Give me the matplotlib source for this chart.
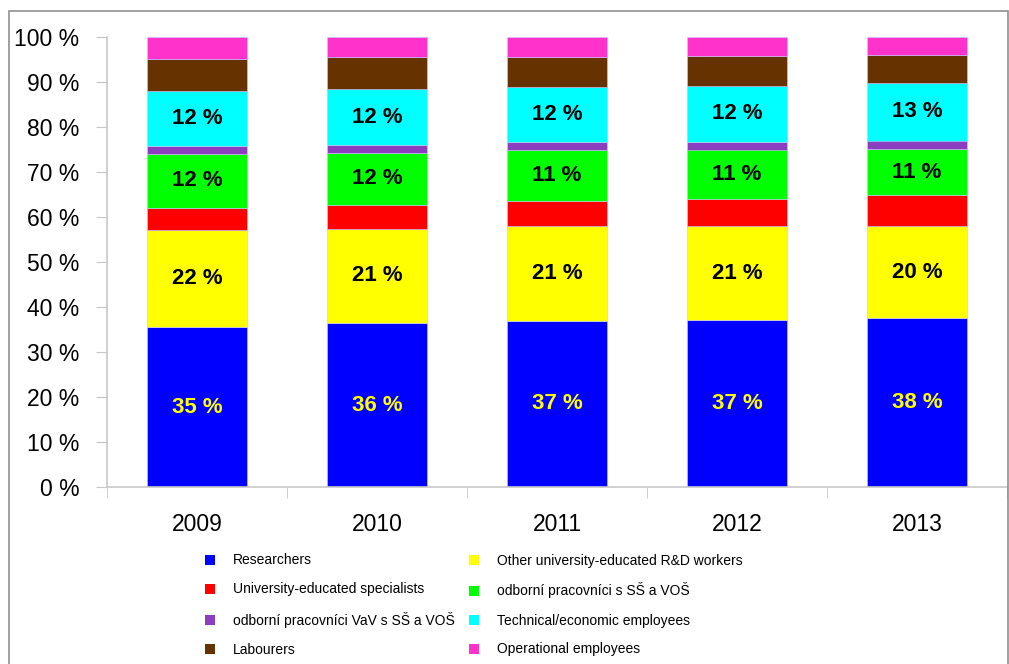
import numpy as np
import matplotlib.pyplot as plt
from matplotlib.patches import Rectangle

# Data (share of employees, %)
years = ["2009", "2010", "2011", "2012", "2013"]
researchers = [35.5, 36.4, 36.9, 37.2, 37.5]
other_univ = [21.6, 21.0, 21.2, 20.7, 20.4]
univ_specialists = [4.9, 5.2, 5.5, 6.2, 6.9]
odborni_ss = [12.0, 11.7, 11.4, 10.9, 10.4]
odborni_vav = [1.8, 1.7, 1.7, 1.7, 1.8]
technical = [12.1, 12.4, 12.2, 12.5, 12.8]
labourers = [7.3, 7.1, 6.6, 6.6, 6.2]
operational = [4.8, 4.5, 4.5, 4.2, 4.0]

# labels printed inside the bars
lab_researchers = [35, 36, 37, 37, 38]
lab_other = [22, 21, 21, 21, 20]
lab_odborni_ss = [12, 12, 11, 11, 11]
lab_technical = [12, 12, 12, 12, 13]

series = [
    ("Researchers", researchers, "#0000FF"),
    ("Other university-educated R&D workers", other_univ, "#FFFF00"),
    ("University-educated specialists", univ_specialists, "#FF0000"),
    ("odborní pracovníci s SŠ a VOŠ", odborni_ss, "#00FF00"),
    ("odborní pracovníci VaV s SŠ a VOŠ", odborni_vav, "#8B3FBF"),
    ("Technical/economic employees", technical, "#00FFFF"),
    ("Labourers", labourers, "#663300"),
    ("Operational employees", operational, "#FF33CC"),
]
bar_labels = {
    "Researchers": (lab_researchers, "#FFFF00"),
    "Other university-educated R&D workers": (lab_other, "black"),
    "odborní pracovníci s SŠ a VOŠ": (lab_odborni_ss, "black"),
    "Technical/economic employees": (lab_technical, "black"),
}

plt.rcParams['font.family'] = ['Liberation Sans', 'DejaVu Sans']

fig = plt.figure(figsize=(10.09, 6.64), dpi=100)
ax = fig.add_axes([107 / 1009, 1 - 487 / 664, 900 / 1009, 450 / 664])

x = np.arange(len(years))
bottom = np.zeros(len(years))
handles = {}
for name, vals, col in series:
    vals = np.array(vals)
    b = ax.bar(x, vals, 0.56, bottom=bottom, color=col, edgecolor="#c8c8ff", linewidth=0.4)
    handles[name] = b
    if name in bar_labels:
        labs, tc = bar_labels[name]
        for i in range(len(years)):
            ax.text(x[i], bottom[i] + vals[i] / 2, f"{labs[i]} %", ha="center", va="center",
                    fontsize=16, fontweight="bold", color=tc)
    bottom += vals

ax.set_xlim(-0.5, 4.5)
ax.set_ylim(0, 100)
ax.set_yticks(range(0, 101, 10))
ax.set_yticklabels([f"{v} %" for v in range(0, 101, 10)], fontsize=16.5)
ax.set_xticks(x)
ax.set_xticklabels(years, fontsize=16.5)
ax.set_xticks(np.arange(-0.5, 5, 1), minor=True)
ax.tick_params(axis="x", which="major", length=0, pad=19)
ax.tick_params(axis="x", which="minor", length=8, color="#c8c8c8")
ax.tick_params(axis="y", length=8, color="#c8c8c8", pad=12)
for s in ["top", "right"]:
    ax.spines[s].set_visible(False)
for s in ["left", "bottom"]:
    ax.spines[s].set_color("#c8c8c8")
    ax.spines[s].set_linewidth(1.2)

# legend, filled column by column
order = [
    "Researchers", "University-educated specialists",
    "odborní pracovníci VaV s SŠ a VOŠ", "Labourers",
    "Other university-educated R&D workers", "odborní pracovníci s SŠ a VOŠ",
    "Technical/economic employees", "Operational employees",
]
leg = fig.legend([handles[n] for n in order], order, ncol=2, loc="upper left",
                 bbox_to_anchor=(192 / 1009, 1 - 541 / 664), frameon=False,
                 fontsize=10, handlelength=0.75, handleheight=0.75, handletextpad=1.3,
                 columnspacing=1.0, labelspacing=1.08)
for h in leg.legend_handles:
    h.set_edgecolor("none")

# outer frame of the original slide
fig.patches.append(Rectangle((9 / 1009, -0.1), 998.5 / 1009, 1.1 - 11 / 664,
                             transform=fig.transFigure, fill=False,
                             edgecolor="#909090", linewidth=1.2))

fig.savefig("out.png", dpi=100)
